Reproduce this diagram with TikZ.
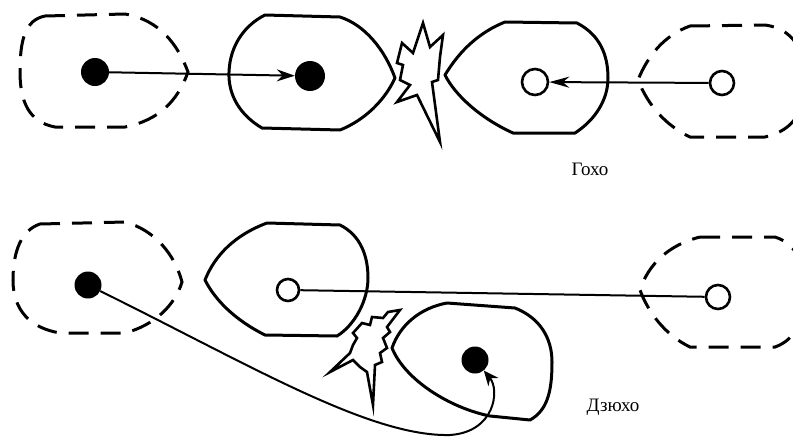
\documentclass[tikz,border=0pt]{standalone}
\usepackage{fontspec}
\setmainfont{Liberation Serif}
\usetikzlibrary{arrows.meta}
\tikzset{
  shipline/.style={line width=3pt, line join=round},
  dashship/.style={line width=3pt, dash pattern=on 20pt off 12pt},
  blast/.style={line width=2.6pt, line join=miter},
  conn/.style={line width=2pt},
  arrowtip/.style={-{Stealth[length=18pt,width=12pt]}},
  fulldot/.style={circle, fill=black, inner sep=0pt, minimum size=28pt},
  opendot/.style={circle, draw=black, line width=2.6pt, fill=white, inner sep=0pt, minimum size=24pt},
  caption/.style={font=\fontsize{19}{22}\selectfont}
}
\begin{document}
\begin{tikzpicture}[x=1pt,y=-1pt]
\useasboundingbox (0,0) rectangle (793,437);
\clip (0,0) rectangle (793,437);
% ---------- top row ----------
\draw[dashship] (45,16) -- (125,14) .. controls (160,20) and (178,45) .. (188,72)
  .. controls (178,100) and (160,120) .. (125,127) -- (55,127)
  .. controls (28,122) and (20,100) .. (20,72) .. controls (20,40) and (25,20) .. cycle;
\draw[shipline] (265,15) -- (340,17) .. controls (365,25) and (385,50) .. (395,78)
  .. controls (385,100) and (365,120) .. (340,130) -- (262,128)
  .. controls (240,115) and (228,95) .. (229,72) .. controls (230,45) and (245,25) .. cycle;
\draw[blast] (397,63) -- (402,43) -- (413,53) -- (423,23) -- (430,47) -- (443,35) -- (440,57)
  -- (438,80) -- (432,82) -- (440,142) -- (417,95) -- (397,102) -- (410,85) -- (400,80)
  -- (403,65) -- cycle;
\draw[shipline] (505,22) -- (577,23) .. controls (600,35) and (608,55) .. (608,78)
  .. controls (608,100) and (595,120) .. (575,133) -- (513,133)
  .. controls (480,118) and (455,95) .. (445,75) .. controls (460,50) and (480,32) .. cycle;
\draw[dashship] (690,26) -- (765,25) .. controls (800,30) and (805,60) .. (805,80)
  .. controls (805,110) and (795,130) .. (765,137) -- (690,137)
  .. controls (665,125) and (648,105) .. (638,80) .. controls (648,55) and (665,35) .. cycle;
\node[fulldot] (d1) at (95,72) {};
\node[fulldot, minimum size=30pt] (d2) at (310,76) {};
\node[opendot, minimum size=26pt] (o1) at (535,82) {};
\node[opendot] (o2) at (722,83) {};
\draw[conn, arrowtip] (d1) -- (d2);
\draw[conn, -{Stealth[length=20pt,width=11pt]}] (o2) -- (o1);
\node[caption] (t1) at (590,169) {Гохо};
% ---------- bottom row ----------
\draw[dashship] (40,224) -- (125,222) .. controls (155,230) and (175,255) .. (182,282)
  .. controls (175,305) and (155,325) .. (125,333) -- (60,333)
  .. controls (30,328) and (13,310) .. (13,280) .. controls (13,250) and (22,230) .. cycle;
\draw[shipline] (267,223) -- (340,225) .. controls (360,235) and (368,255) .. (368,278)
  .. controls (368,300) and (355,325) .. (337,336) -- (265,335)
  .. controls (235,320) and (215,300) .. (205,280) .. controls (215,255) and (235,235) .. cycle;
\draw[dashship] (700,237) -- (775,237) .. controls (800,245) and (805,270) .. (805,290)
  .. controls (805,320) and (795,340) .. (775,347) -- (690,347)
  .. controls (665,335) and (648,312) .. (640,290) .. controls (648,265) and (668,245) .. cycle;
\draw[shipline] (392,348) .. controls (400,325) and (420,308) .. (447,303) -- (515,308)
  .. controls (540,318) and (552,338) .. (552,362) .. controls (552,390) and (548,410) .. (530,420)
  -- (490,416) .. controls (450,408) and (405,380) .. cycle;
\draw[blast] (353,333) -- (362,323) -- (370,325) -- (372,317) -- (383,318) -- (388,312)
  -- (400,310) -- (387,327) -- (390,332) -- (383,338) -- (387,348) -- (380,353) -- (382,362)
  -- (375,365) -- (373,405) -- (367,372) -- (360,367) -- (353,360) -- (330,372) -- (350,353)
  -- (353,345) -- (357,338) -- cycle;
\node[fulldot, minimum size=27pt] (d3) at (88,285) {};
\node[opendot, minimum size=22pt] (o3) at (288,290) {};
\node[opendot] (o4) at (718,297) {};
\node[fulldot, minimum size=27pt] (d4) at (475,360) {};
\draw[conn] (o3) -- (o4);
\draw[conn, -{Stealth[length=15pt,width=13pt]}] (d3) .. controls (250,365) and (370,437) .. (450,435)
  .. controls (495,432) and (500,390) .. (d4);
\node[caption] (t2) at (613,407) {Дзюхо};
\end{tikzpicture}
\end{document}
